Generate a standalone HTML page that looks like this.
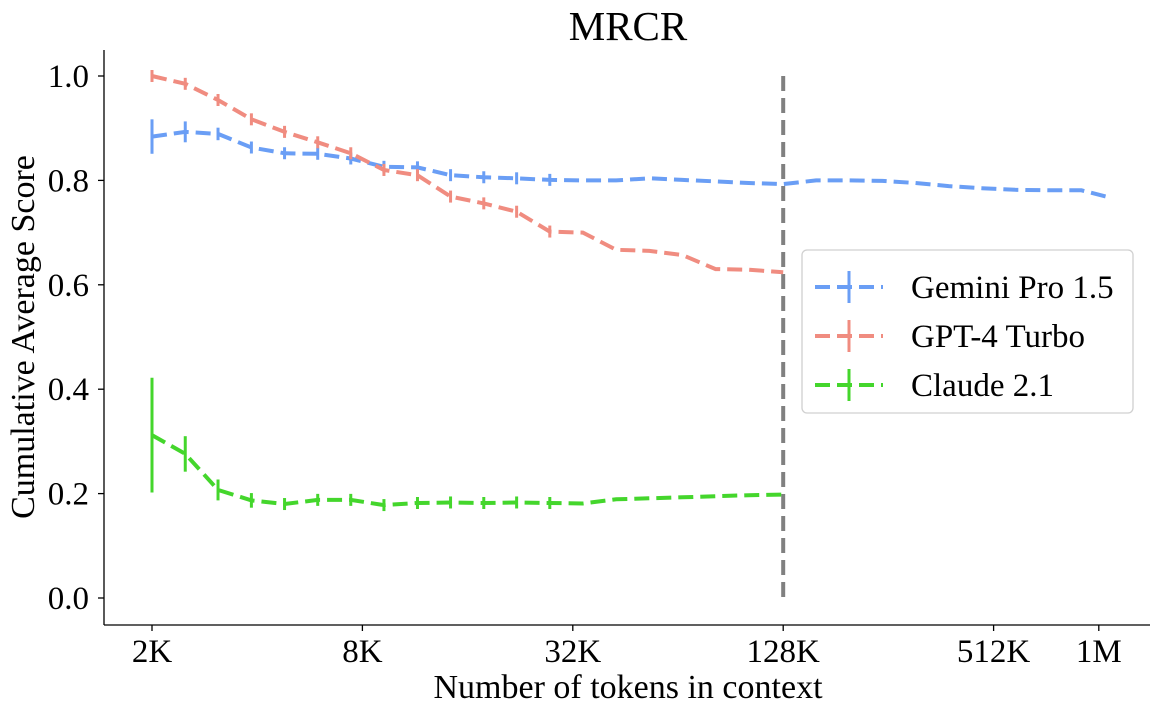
<!DOCTYPE html>
<html><head><meta charset="utf-8"><style>
body{margin:0;background:#fff;}
svg text{font-family:"Liberation Serif",serif;fill:#000;}
</style></head><body>
<svg id="chart" width="1163" height="717" xmlns="http://www.w3.org/2000/svg">
<text x="628" y="40" font-size="41" text-anchor="middle">MRCR</text>
<text transform="translate(34,337) rotate(-90)" font-size="34" text-anchor="middle">Cumulative Average Score</text>
<text x="628" y="698" font-size="34" text-anchor="middle">Number of tokens in context</text>
<g id="axes"></g>
<g id="marks"></g>
<g id="legend"></g>
</svg>
<script>
const xTokensK = [2,2.49,3.09,3.85,4.79,5.96,7.41,9.22,11.5,14.3,17.8,22.1,27.5,34.2,42.6,53,65.9,82,102,128];
const geminiExtraK = [159,198,246,306,381,474,590,734,913,1090];
const geminiVals = [0.884,0.893,0.889,0.863,0.852,0.851,0.842,0.826,0.825,0.810,0.806,0.804,0.801,0.800,0.800,0.804,0.801,0.798,0.795,0.793];
const geminiExtraVals = [0.800,0.800,0.799,0.795,0.789,0.785,0.782,0.781,0.781,0.768];
const geminiErr = [0.033,0.02,0.012,0.01,0.008,0.008,0.007,0.007,0.007,0.006,0.006,0.005,0.004];
const gptVals = [1.0,0.985,0.954,0.917,0.893,0.873,0.852,0.820,0.810,0.769,0.756,0.740,0.702,0.700,0.667,0.665,0.657,0.630,0.629,0.624];
const gptErr = [0.002,0.006,0.008,0.01,0.01,0.01,0.01,0.01,0.01,0.008,0.008,0.008,0.008];
const claudeVals = [0.312,0.276,0.207,0.187,0.180,0.188,0.188,0.178,0.182,0.183,0.182,0.183,0.182,0.181,0.189,0.191,0.193,0.195,0.197,0.198];
const claudeErr = [0.11,0.034,0.02,0.014,0.01,0.008,0.008,0.007,0.006,0.006,0.005,0.005,0.004];
const xTickVals = [2,8,32,128,512,1024];
const xTickLabels = ["2K","8K","32K","128K","512K","1M"];
const yTickVals = [0,0.2,0.4,0.6,0.8,1.0];
const yTickLabels = ["0.0","0.2","0.4","0.6","0.8","1.0"];
const verticalLineK = 128;

const NS="http://www.w3.org/2000/svg";
const xs = k => 152 + Math.log2(k/2)*105.2;
const ys = v => 598 - v*522;
function mk(tag, attrs, parent){const e=document.createElementNS(NS,tag);for(const a in attrs)e.setAttribute(a,attrs[a]);parent.appendChild(e);return e;}
const axes=document.getElementById('axes'), marks=document.getElementById('marks'), legend=document.getElementById('legend');

let sp=mk('line',{x1:104,y1:625,x2:1150,y2:625,stroke:'#000','stroke-width':1.3},axes);


sp=mk('line',{x1:104,y1:50,x2:104,y2:625,stroke:'#000','stroke-width':1.3},axes);


xTickVals.forEach((k,i)=>{
  const x=xs(k);
  mk('line',{x1:x,y1:625,x2:x,y2:631,stroke:'#000','stroke-width':1.3},axes);
  const t=mk('text',{x:x,y:662,'font-size':33,'text-anchor':'middle'},axes);
  t.textContent=xTickLabels[i];
  
  
});
yTickVals.forEach((v,i)=>{
  const y=ys(v);
  mk('line',{x1:98,y1:y,x2:104,y2:y,stroke:'#000','stroke-width':1.3},axes);
  const t=mk('text',{x:89,y:y+11,'font-size':33,'text-anchor':'end'},axes);
  t.textContent=yTickLabels[i];
  
  
});

const vl=mk('line',{x1:xs(verticalLineK),y1:ys(1.0),x2:xs(verticalLineK),y2:ys(0),stroke:'#808080','stroke-width':4,'stroke-dasharray':'15,7'},marks);



function series(name,color,ks,vals,errs){
  const g=mk('g',{},marks);
  
  
  const pts=ks.map((k,i)=>xs(k).toFixed(1)+','+ys(vals[i]).toFixed(1)).join(' ');
  const pl=mk('polyline',{points:pts,fill:'none',stroke:color,'stroke-width':4,'stroke-dasharray':'15,7'},g);
  
  
  errs.forEach((e,i)=>{
    const x=xs(ks[i]), y=ys(vals[i]);
    const h=Math.max(e*522,6);
    const eb=mk('line',{x1:x,y1:y-h,x2:x,y2:y+h,stroke:color,'stroke-width':3},g);
    
    
  });
}
series('gemini','#6a9ef5',xTokensK.concat(geminiExtraK),geminiVals.concat(geminiExtraVals),geminiErr);
series('gpt4','#f08c80',xTokensK,gptVals,gptErr);
series('claude','#44d62c',xTokensK,claudeVals,claudeErr);

mk('rect',{x:802,y:250,width:331,height:163,rx:5,fill:'#fff',stroke:'#d0d0d0','stroke-width':1.3},legend);
[['Gemini Pro 1.5','#6a9ef5'],['GPT-4 Turbo','#f08c80'],['Claude 2.1','#44d62c']].forEach((it,i)=>{
  const y=287+i*49;
  const g=mk('g',{},legend);
  
  
  mk('line',{x1:815,y1:y,x2:883,y2:y,stroke:it[1],'stroke-width':4,'stroke-dasharray':'15,7'},g);
  mk('line',{x1:849,y1:y-16,x2:849,y2:y+16,stroke:it[1],'stroke-width':3},g);
  const t=mk('text',{x:911,y:y+11,'font-size':33},g);
  t.textContent=it[0];
});
</script>
</body></html>
